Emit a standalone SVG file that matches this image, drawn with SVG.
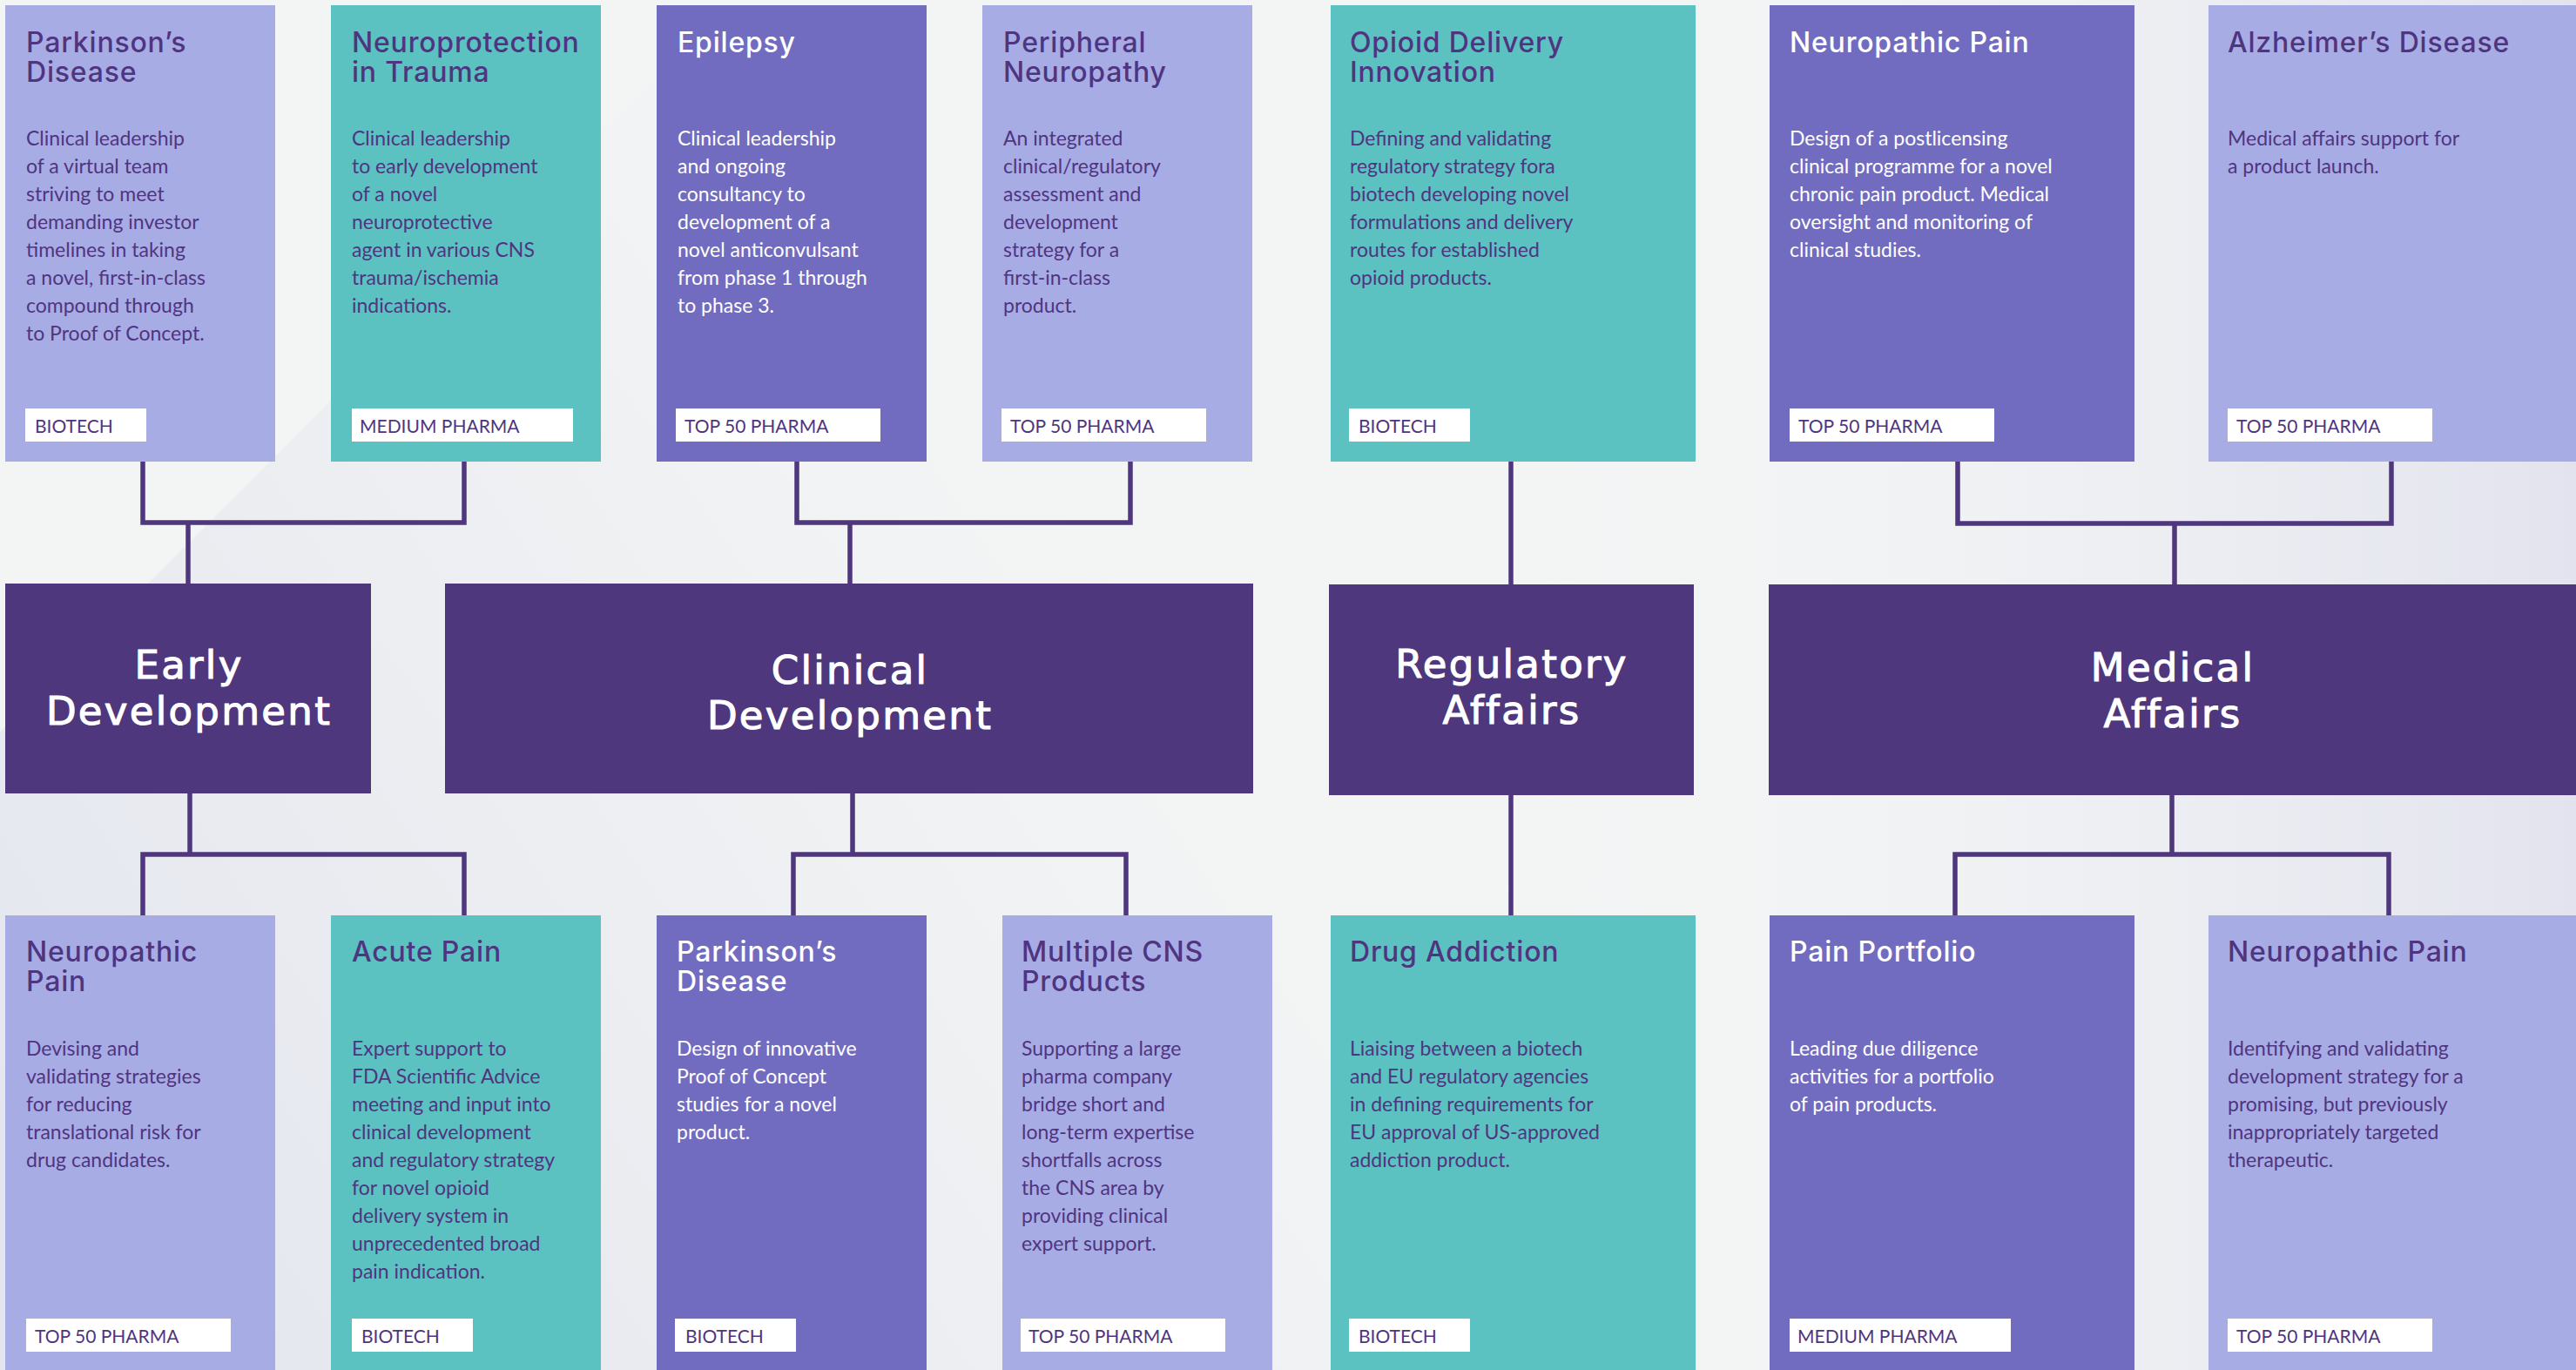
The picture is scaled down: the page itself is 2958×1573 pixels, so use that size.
<svg xmlns="http://www.w3.org/2000/svg" width="2958" height="1573" viewBox="0 0 2958 1573">
<defs>
<linearGradient id="bgL" gradientUnits="userSpaceOnUse" x1="0" y1="1573" x2="1300" y2="700">
<stop offset="0" stop-color="#E3E5EF"/>
<stop offset="0.5" stop-color="#EBEDF1"/>
<stop offset="1" stop-color="#F3F5F5"/>
</linearGradient>
<linearGradient id="bgR" x1="0" y1="0" x2="1" y2="0">
<stop offset="0" stop-color="#F3F5F5" stop-opacity="0"/>
<stop offset="1" stop-color="#E2E3EE" stop-opacity="1"/>
</linearGradient>
<style>
.bg{fill:#F3F5F5}
.lav{fill:#A8ACE5}
.teal{fill:#5CC2C1}
.pur{fill:#726CC0}
.dark{fill:#4E377D}
.tag{fill:#FFFFFF}
.tt{font-family:Inter,"Noto Sans","Liberation Sans",sans-serif;font-weight:500;font-size:32px;letter-spacing:0.8px}
.bd{font-family:Lato,"Liberation Sans",sans-serif;font-size:23px}
.tg{font-family:Lato,"Liberation Sans",sans-serif;font-size:21px;fill:#4F3580}
.hd{font-family:"DejaVu Sans","Liberation Sans",sans-serif;font-size:45px;letter-spacing:2.3px;fill:#FFFFFF;stroke:#FFFFFF;stroke-width:1.1px;text-anchor:middle}
.dk{fill:#4F3580}
.wh{fill:#FFFFFF}
.con{fill:none;stroke:#4E377D;stroke-width:5.5}
</style>
</defs>
<rect class="bg" x="0" y="0" width="2958" height="1573"/>
<polygon points="0,1573 0,840 840,0 2958,0 2958,1573" fill="url(#bgL)"/>
<rect x="1700" y="0" width="1258" height="1573" fill="url(#bgR)"/>
<polygon points="2600,1573 2958,1120 2958,1573" fill="#F1F3F4" opacity="0.7"/>

<g id="connectors">
<path class="con" d="M164 530 V600 H533 V530 M216 600 V670"/>
<path class="con" d="M915 530 V600 H1298 V530 M976 600 V670"/>
<path class="con" d="M1735 530 V671"/>
<path class="con" d="M2248 530 V601 H2746 V530 M2497 601 V671"/>
<path class="con" d="M218 911 V981 M164 1051 V981 H533 V1051"/>
<path class="con" d="M979 911 V981 M911 1051 V981 H1293 V1051"/>
<path class="con" d="M1735 913 V1051"/>
<path class="con" d="M2494 913 V981 M2245 1051 V981 H2743 V1051"/>
</g>

<g id="early-development">
<rect class="dark" x="6" y="670" width="420" height="241"/>
<text class="hd" x="217" y="779">Early<tspan x="217" y="832">Development</tspan></text>
</g>
<g id="clinical-development">
<rect class="dark" x="511" y="670" width="928" height="241"/>
<text class="hd" x="976" y="785">Clinical<tspan x="976" y="837">Development</tspan></text>
</g>
<g id="regulatory-affairs">
<rect class="dark" x="1526" y="671" width="419" height="242"/>
<text class="hd" x="1736" y="778">Regulatory<tspan x="1736" y="831">Affairs</tspan></text>
</g>
<g id="medical-affairs">
<rect class="dark" x="2031" y="671" width="927" height="242"/>
<text class="hd" x="2495" y="782">Medical<tspan x="2495" y="835">Affairs</tspan></text>
</g>

<!-- top row -->
<g id="parkinsons-top">
<rect class="lav" x="6" y="6" width="310" height="524"/>
<text class="tt dk" x="30" y="60">Parkinson’s<tspan x="30" y="94">Disease</tspan></text>
<text class="bd dk" x="30" y="167">Clinical leadership<tspan x="30" dy="32">of a virtual team</tspan><tspan x="30" dy="32">striving to meet</tspan><tspan x="30" dy="32">demanding investor</tspan><tspan x="30" dy="32">timelines in taking</tspan><tspan x="30" dy="32">a novel, first-in-class</tspan><tspan x="30" dy="32">compound through</tspan><tspan x="30" dy="32">to Proof of Concept.</tspan></text>
<rect class="tag" x="29" y="469" width="139" height="38"/>
<text class="tg" x="40" y="497">BIOTECH</text>
</g>
<g id="neuroprotection">
<rect class="teal" x="380" y="6" width="310" height="524"/>
<text class="tt dk" x="404" y="60">Neuroprotection<tspan x="404" y="94">in Trauma</tspan></text>
<text class="bd dk" x="404" y="167">Clinical leadership<tspan x="404" dy="32">to early development</tspan><tspan x="404" dy="32">of a novel</tspan><tspan x="404" dy="32">neuroprotective</tspan><tspan x="404" dy="32">agent in various CNS</tspan><tspan x="404" dy="32">trauma/ischemia</tspan><tspan x="404" dy="32">indications.</tspan></text>
<rect class="tag" x="404" y="469" width="254" height="38"/>
<text class="tg" x="413" y="497">MEDIUM PHARMA</text>
</g>
<g id="epilepsy">
<rect class="pur" x="754" y="6" width="310" height="524"/>
<text class="tt wh" x="778" y="60">Epilepsy</text>
<text class="bd wh" x="778" y="167">Clinical leadership<tspan x="778" dy="32">and ongoing</tspan><tspan x="778" dy="32">consultancy to</tspan><tspan x="778" dy="32">development of a</tspan><tspan x="778" dy="32">novel anticonvulsant</tspan><tspan x="778" dy="32">from phase 1 through</tspan><tspan x="778" dy="32">to phase 3.</tspan></text>
<rect class="tag" x="776" y="469" width="235" height="38"/>
<text class="tg" x="786" y="497">TOP 50 PHARMA</text>
</g>
<g id="peripheral-neuropathy">
<rect class="lav" x="1128" y="6" width="310" height="524"/>
<text class="tt dk" x="1152" y="60">Peripheral<tspan x="1152" y="94">Neuropathy</tspan></text>
<text class="bd dk" x="1152" y="167">An integrated<tspan x="1152" dy="32">clinical/regulatory</tspan><tspan x="1152" dy="32">assessment and</tspan><tspan x="1152" dy="32">development</tspan><tspan x="1152" dy="32">strategy for a</tspan><tspan x="1152" dy="32">first-in-class</tspan><tspan x="1152" dy="32">product.</tspan></text>
<rect class="tag" x="1150" y="469" width="235" height="38"/>
<text class="tg" x="1160" y="497">TOP 50 PHARMA</text>
</g>
<g id="opioid-delivery">
<rect class="teal" x="1528" y="6" width="419" height="524"/>
<text class="tt dk" x="1550" y="60">Opioid Delivery<tspan x="1550" y="94">Innovation</tspan></text>
<text class="bd dk" x="1550" y="167">Defining and validating<tspan x="1550" dy="32">regulatory strategy fora</tspan><tspan x="1550" dy="32">biotech developing novel</tspan><tspan x="1550" dy="32">formulations and delivery</tspan><tspan x="1550" dy="32">routes for established</tspan><tspan x="1550" dy="32">opioid products.</tspan></text>
<rect class="tag" x="1549" y="469" width="139" height="38"/>
<text class="tg" x="1560" y="497">BIOTECH</text>
</g>
<g id="neuropathic-pain-top">
<rect class="pur" x="2032" y="6" width="419" height="524"/>
<text class="tt wh" x="2055" y="60">Neuropathic Pain</text>
<text class="bd wh" x="2055" y="167">Design of a postlicensing<tspan x="2055" dy="32">clinical programme for a novel</tspan><tspan x="2055" dy="32">chronic pain product. Medical</tspan><tspan x="2055" dy="32">oversight and monitoring of</tspan><tspan x="2055" dy="32">clinical studies.</tspan></text>
<rect class="tag" x="2055" y="469" width="235" height="38"/>
<text class="tg" x="2065" y="497">TOP 50 PHARMA</text>
</g>
<g id="alzheimers">
<rect class="lav" x="2536" y="6" width="422" height="524"/>
<text class="tt dk" x="2558" y="60">Alzheimer’s Disease</text>
<text class="bd dk" x="2558" y="167">Medical affairs support for<tspan x="2558" dy="32">a product launch.</tspan></text>
<rect class="tag" x="2558" y="469" width="235" height="38"/>
<text class="tg" x="2568" y="497">TOP 50 PHARMA</text>
</g>

<!-- bottom row -->
<g id="neuropathic-pain-early">
<rect class="lav" x="6" y="1051" width="310" height="522"/>
<text class="tt dk" x="30" y="1104">Neuropathic<tspan x="30" y="1138">Pain</tspan></text>
<text class="bd dk" x="30" y="1212">Devising and<tspan x="30" dy="32">validating strategies</tspan><tspan x="30" dy="32">for reducing</tspan><tspan x="30" dy="32">translational risk for</tspan><tspan x="30" dy="32">drug candidates.</tspan></text>
<rect class="tag" x="30" y="1514" width="235" height="38"/>
<text class="tg" x="40" y="1542">TOP 50 PHARMA</text>
</g>
<g id="acute-pain">
<rect class="teal" x="380" y="1051" width="310" height="522"/>
<text class="tt dk" x="404" y="1104">Acute Pain</text>
<text class="bd dk" x="404" y="1212">Expert support to<tspan x="404" dy="32">FDA Scientific Advice</tspan><tspan x="404" dy="32">meeting and input into</tspan><tspan x="404" dy="32">clinical development</tspan><tspan x="404" dy="32">and regulatory strategy</tspan><tspan x="404" dy="32">for novel opioid</tspan><tspan x="404" dy="32">delivery system in</tspan><tspan x="404" dy="32">unprecedented broad</tspan><tspan x="404" dy="32">pain indication.</tspan></text>
<rect class="tag" x="404" y="1514" width="139" height="38"/>
<text class="tg" x="415" y="1542">BIOTECH</text>
</g>
<g id="parkinsons-clinical">
<rect class="pur" x="754" y="1051" width="310" height="522"/>
<text class="tt wh" x="777" y="1104">Parkinson’s<tspan x="777" y="1138">Disease</tspan></text>
<text class="bd wh" x="777" y="1212">Design of innovative<tspan x="777" dy="32">Proof of Concept</tspan><tspan x="777" dy="32">studies for a novel</tspan><tspan x="777" dy="32">product.</tspan></text>
<rect class="tag" x="775" y="1514" width="139" height="38"/>
<text class="tg" x="787" y="1542">BIOTECH</text>
</g>
<g id="multiple-cns">
<rect class="lav" x="1151" y="1051" width="310" height="522"/>
<text class="tt dk" x="1173" y="1104">Multiple CNS<tspan x="1173" y="1138">Products</tspan></text>
<text class="bd dk" x="1173" y="1212">Supporting a large<tspan x="1173" dy="32">pharma company</tspan><tspan x="1173" dy="32">bridge short and</tspan><tspan x="1173" dy="32">long-term expertise</tspan><tspan x="1173" dy="32">shortfalls across</tspan><tspan x="1173" dy="32">the CNS area by</tspan><tspan x="1173" dy="32">providing clinical</tspan><tspan x="1173" dy="32">expert support.</tspan></text>
<rect class="tag" x="1172" y="1514" width="235" height="38"/>
<text class="tg" x="1181" y="1542">TOP 50 PHARMA</text>
</g>
<g id="drug-addiction">
<rect class="teal" x="1528" y="1051" width="419" height="522"/>
<text class="tt dk" x="1550" y="1104">Drug Addiction</text>
<text class="bd dk" x="1550" y="1212">Liaising between a biotech<tspan x="1550" dy="32">and EU regulatory agencies</tspan><tspan x="1550" dy="32">in defining requirements for</tspan><tspan x="1550" dy="32">EU approval of US-approved</tspan><tspan x="1550" dy="32">addiction product.</tspan></text>
<rect class="tag" x="1549" y="1514" width="139" height="38"/>
<text class="tg" x="1560" y="1542">BIOTECH</text>
</g>
<g id="pain-portfolio">
<rect class="pur" x="2032" y="1051" width="419" height="522"/>
<text class="tt wh" x="2055" y="1104">Pain Portfolio</text>
<text class="bd wh" x="2055" y="1212">Leading due diligence<tspan x="2055" dy="32">activities for a portfolio</tspan><tspan x="2055" dy="32">of pain products.</tspan></text>
<rect class="tag" x="2055" y="1514" width="254" height="38"/>
<text class="tg" x="2064" y="1542">MEDIUM PHARMA</text>
</g>
<g id="neuropathic-pain-medical">
<rect class="lav" x="2536" y="1051" width="422" height="522"/>
<text class="tt dk" x="2558" y="1104">Neuropathic Pain</text>
<text class="bd dk" x="2558" y="1212">Identifying and validating<tspan x="2558" dy="32">development strategy for a</tspan><tspan x="2558" dy="32">promising, but previously</tspan><tspan x="2558" dy="32">inappropriately targeted</tspan><tspan x="2558" dy="32">therapeutic.</tspan></text>
<rect class="tag" x="2558" y="1514" width="235" height="38"/>
<text class="tg" x="2568" y="1542">TOP 50 PHARMA</text>
</g>
</svg>
